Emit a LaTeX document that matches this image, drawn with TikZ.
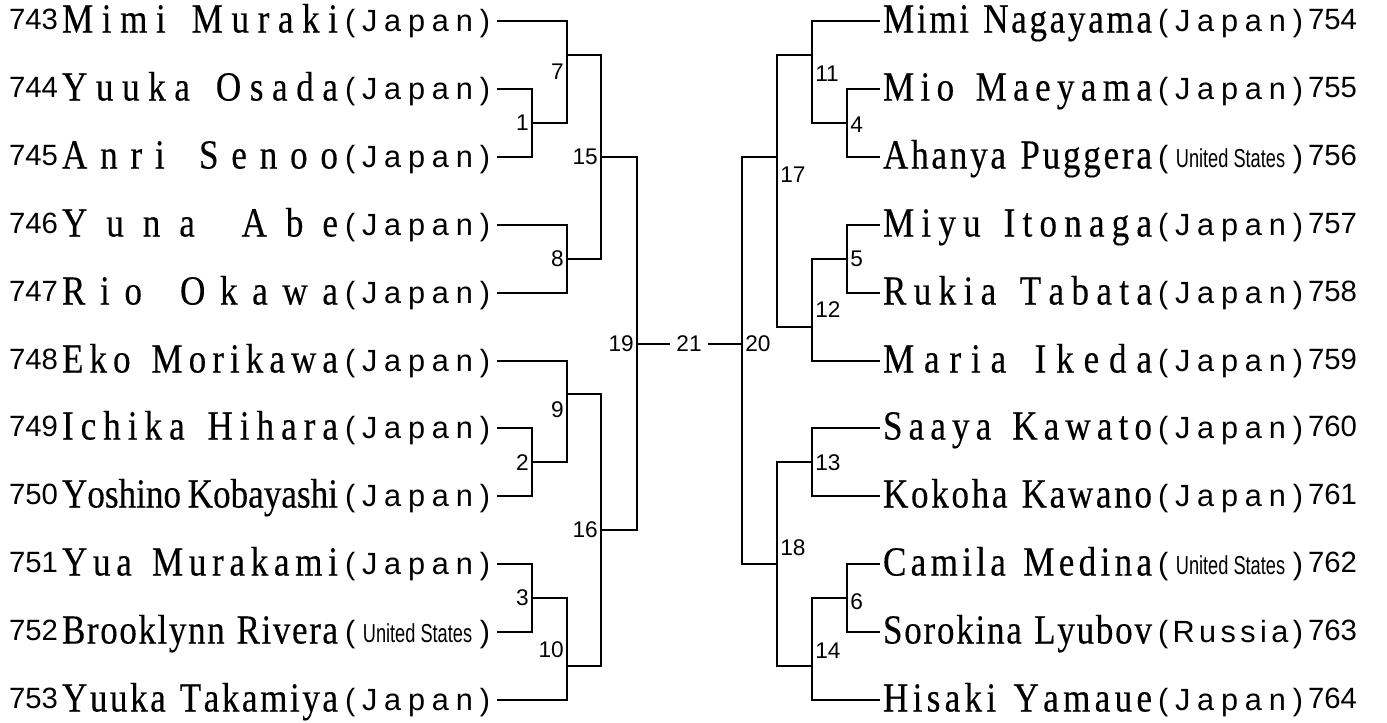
\documentclass[tikz,border=0pt]{standalone}
\usepackage{fontspec}
\usepackage{graphicx}
\newfontfamily\namefont[FakeStretch=0.85,FakeBold=0.3]{Liberation Serif}
\newfontfamily\sansf{Liberation Sans}
\newfontfamily\narrowf[FakeStretch=0.7]{Liberation Sans}
\newlength\pxu \setlength\pxu{0.75pt}
\def\spreadA#1{\ifx#1\relax\else#1\hfil\expandafter\spreadA\fi}
\newsavebox\nmbox
\newcommand\nm[2]{%
  \sbox\nmbox{\namefont #2}%
  \ifdim\wd\nmbox>#1\pxu
    \resizebox{#1\pxu}{\height}{\usebox\nmbox}%
  \else
    \hbox to #1\pxu{\namefont\spreadA#2\relax\unskip}%
  \fi}
\newcommand\ct[1]{\raisebox{1.5\pxu}{\hbox to 145\pxu{\sansf\fontsize{23}{24}\selectfont\spreadA#1\relax\unskip}}}
\newcommand\ctus{\raisebox{1.5\pxu}{\hbox to 145\pxu{\sansf\fontsize{23}{24}\selectfont(\hfil{\narrowf\fontsize{19.5}{21}\selectfont United States}\hfil)}}}
\newcommand\pnum[1]{\raisebox{3\pxu}{\sansf\fontsize{22}{23}\selectfont #1}}
\newcommand\Lp[2]{\makebox[54\pxu][r]{\pnum{#1}}\hspace{4\pxu}\nm{276}{#2}\hspace{7\pxu}}
\newcommand\Rp[2]{\nm{269}{#2}\hspace{6\pxu}#1}
\tikzset{
  pbase/.style={inner sep=0pt, text height=21.75pt, text depth=4.5pt, font=\fontsize{31}{33}\selectfont},
  pl/.style={pbase, anchor=east, outer xsep=5.25pt},
  pr/.style={pbase, anchor=west, outer xsep=2.25pt},
  br/.style={line width=1.1pt, line join=miter},
  lbl/.style={inner sep=0pt, font=\sansf\fontsize{17}{18}\selectfont},
  lblL/.style={lbl, anchor=east},
  lblR/.style={lbl, anchor=west}
}
\begin{document}
\begin{tikzpicture}[x=0.75pt,y=-0.75pt]
\useasboundingbox (0,0) rectangle (1387,722);
% left players
\node[pl] (p743) at (497,21)  {\Lp{743}{Mimi~Muraki}\ct{(Japan)}};
\node[pl] (p744) at (497,89)  {\Lp{744}{Yuuka~Osada}\ct{(Japan)}};
\node[pl] (p745) at (497,157) {\Lp{745}{Anri~Senoo}\ct{(Japan)}};
\node[pl] (p746) at (497,225) {\Lp{746}{Yuna~Abe}\ct{(Japan)}};
\node[pl] (p747) at (497,293) {\Lp{747}{Rio~Okawa}\ct{(Japan)}};
\node[pl] (p748) at (497,361) {\Lp{748}{Eko~Morikawa}\ct{(Japan)}};
\node[pl] (p749) at (497,428) {\Lp{749}{Ichika~Hihara}\ct{(Japan)}};
\node[pl] (p750) at (497,496) {\Lp{750}{Yoshino~Kobayashi}\ct{(Japan)}};
\node[pl] (p751) at (497,564) {\Lp{751}{Yua~Murakami}\ct{(Japan)}};
\node[pl] (p752) at (497,632) {\Lp{752}{Brooklynn~Rivera}\ctus};
\node[pl] (p753) at (497,700) {\Lp{753}{Yuuka~Takamiya}\ct{(Japan)}};
% right players
\node[pr] (p754) at (880,21)  {\Rp{\ct{(Japan)}}{Mimi~Nagayama}\hspace{5\pxu}\pnum{754}};
\node[pr] (p755) at (880,89)  {\Rp{\ct{(Japan)}}{Mio~Maeyama}\hspace{5\pxu}\pnum{755}};
\node[pr] (p756) at (880,157) {\Rp{\ctus}{Ahanya~Puggera}\hspace{5\pxu}\pnum{756}};
\node[pr] (p757) at (880,225) {\Rp{\ct{(Japan)}}{Miyu~Itonaga}\hspace{5\pxu}\pnum{757}};
\node[pr] (p758) at (880,293) {\Rp{\ct{(Japan)}}{Rukia~Tabata}\hspace{5\pxu}\pnum{758}};
\node[pr] (p759) at (880,361) {\Rp{\ct{(Japan)}}{Maria~Ikeda}\hspace{5\pxu}\pnum{759}};
\node[pr] (p760) at (880,428) {\Rp{\ct{(Japan)}}{Saaya~Kawato}\hspace{5\pxu}\pnum{760}};
\node[pr] (p761) at (880,496) {\Rp{\ct{(Japan)}}{Kokoha~Kawano}\hspace{5\pxu}\pnum{761}};
\node[pr] (p762) at (880,564) {\Rp{\ctus}{Camila~Medina}\hspace{5\pxu}\pnum{762}};
\node[pr] (p763) at (880,632) {\Rp{\ct{(Russia)}}{Sorokina~Lyubov}\hspace{5\pxu}\pnum{763}};
\node[pr] (p764) at (880,700) {\Rp{\ct{(Japan)}}{Hisaki~Yamaue}\hspace{5\pxu}\pnum{764}};
% match exit points, left
\coordinate (o1) at (532,123);
\coordinate (o2) at (532,462);
\coordinate (o3) at (532,598);
\coordinate (o7) at (567,55);
\coordinate (o8) at (567,259);
\coordinate (o9) at (567,394);
\coordinate (o10) at (567,666);
\coordinate (o15) at (601,157);
\coordinate (o16) at (601,530);
\coordinate (o19) at (637,344);
% match exit points, right
\coordinate (o4) at (847,123);
\coordinate (o5) at (847,259);
\coordinate (o6) at (847,598);
\coordinate (o11) at (812,55);
\coordinate (o12) at (812,327);
\coordinate (o13) at (812,462);
\coordinate (o14) at (812,666);
\coordinate (o17) at (777,157);
\coordinate (o18) at (777,564);
\coordinate (o20) at (742,344);
% left brackets
\draw[br] (p744.east) -- (p744.east -| o1) -- (p745.east -| o1) -- (p745.east);
\draw[br] (p749.east) -- (p749.east -| o2) -- (p750.east -| o2) -- (p750.east);
\draw[br] (p751.east) -- (p751.east -| o3) -- (p752.east -| o3) -- (p752.east);
\draw[br] (p743.east) -- (p743.east -| o7) -- (o1 -| o7) -- (o1);
\draw[br] (p746.east) -- (p746.east -| o8) -- (p747.east -| o8) -- (p747.east);
\draw[br] (p748.east) -- (p748.east -| o9) -- (o2 -| o9) -- (o2);
\draw[br] (o3) -- (o3 -| o10) -- (p753.east -| o10) -- (p753.east);
\draw[br] (o7) -- (o7 -| o15) -- (o8 -| o15) -- (o8);
\draw[br] (o9) -- (o9 -| o16) -- (o10 -| o16) -- (o10);
\draw[br] (o15) -- (o15 -| o19) -- (o16 -| o19) -- (o16);
% right brackets
\draw[br] (p755.west) -- (p755.west -| o4) -- (p756.west -| o4) -- (p756.west);
\draw[br] (p757.west) -- (p757.west -| o5) -- (p758.west -| o5) -- (p758.west);
\draw[br] (p762.west) -- (p762.west -| o6) -- (p763.west -| o6) -- (p763.west);
\draw[br] (p754.west) -- (p754.west -| o11) -- (o4 -| o11) -- (o4);
\draw[br] (o5) -- (o5 -| o12) -- (p759.west -| o12) -- (p759.west);
\draw[br] (p760.west) -- (p760.west -| o13) -- (p761.west -| o13) -- (p761.west);
\draw[br] (o6) -- (o6 -| o14) -- (p764.west -| o14) -- (p764.west);
\draw[br] (o11) -- (o11 -| o17) -- (o12 -| o17) -- (o12);
\draw[br] (o13) -- (o13 -| o18) -- (o14 -| o18) -- (o14);
\draw[br] (o17) -- (o17 -| o20) -- (o18 -| o20) -- (o18);
% final
\node[lbl, inner xsep=4.5pt] (m21) at (689,344) {21};
\draw[br] (o19) -- (m21);
\draw[br] (m21) -- (o20);
% labels left
\node[lblL] (t1) at (529,123) {1};
\node[lblL] (t2) at (529,463) {2};
\node[lblL] (t3) at (529,598) {3};
\node[lblL] (t7) at (564,72) {7};
\node[lblL] (t8) at (564,259) {8};
\node[lblL] (t9) at (564,410) {9};
\node[lblL] (t10) at (564,650) {10};
\node[lblL] (t15) at (598,157) {15};
\node[lblL] (t16) at (598,530) {16};
\node[lblL] (t19) at (634,344) {19};
% labels right
\node[lblR] (t4) at (850,125) {4};
\node[lblR] (t5) at (850,259) {5};
\node[lblR] (t6) at (850,602) {6};
\node[lblR] (t11) at (815,74) {11};
\node[lblR] (t12) at (815,310) {12};
\node[lblR] (t13) at (815,463) {13};
\node[lblR] (t14) at (815,651) {14};
\node[lblR] (t17) at (780,175) {17};
\node[lblR] (t18) at (780,548) {18};
\node[lblR] (t20) at (745,344) {20};
\end{tikzpicture}
\end{document}
